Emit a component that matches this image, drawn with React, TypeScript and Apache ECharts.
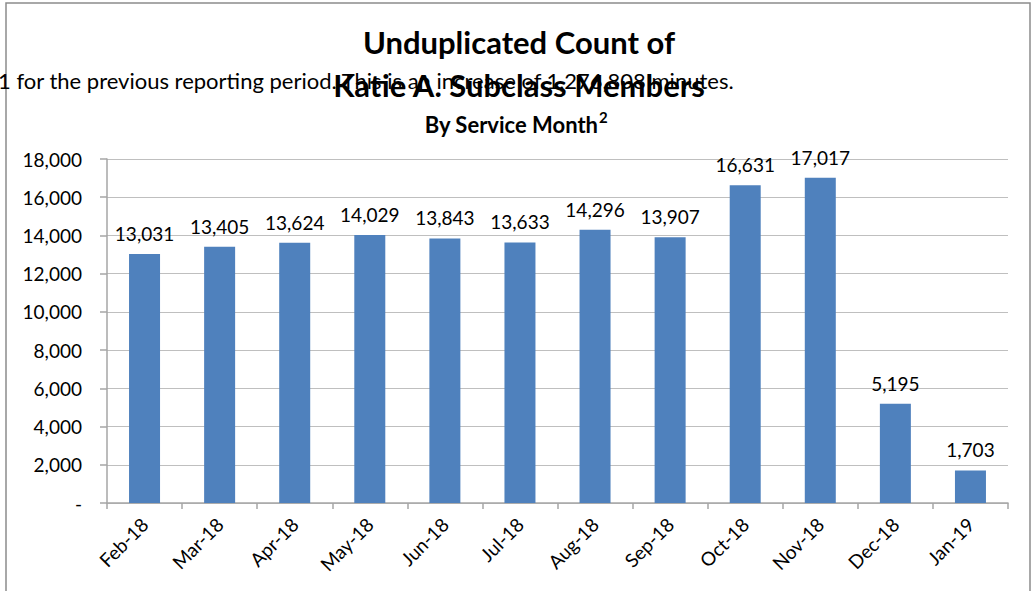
import React, { useEffect, useRef } from "react";
import * as echarts from "echarts";

const categories = ["Feb-18", "Mar-18", "Apr-18", "May-18", "Jun-18", "Jul-18", "Aug-18", "Sep-18", "Oct-18", "Nov-18", "Dec-18", "Jan-19"];
const members = [13031, 13405, 13624, 14029, 13843, 13633, 14296, 13907, 16631, 17017, 5195, 1703];
const titleLines = ["Unduplicated Count of", "Katie A. Subclass Members", "By Service Month"];
const titleSup = "2";
const bodyText = "1 for the previous reporting period. This is an increase of 1,276,808 minutes.";

const FONT = "Lato, 'Open Sans', sans-serif";
const fmt = (v: number) => (v === 0 ? "-" : v.toLocaleString("en-US"));

export default function App() {
  const ref = useRef<HTMLDivElement>(null);
  useEffect(() => {
    const chart = echarts.init(ref.current!, undefined, { renderer: "svg" });
    chart.setOption({
      animation: false,
      backgroundColor: "#ffffff",
      textStyle: { fontFamily: FONT },
      graphic: [
        {
          type: "rect",
          z: 0,
          shape: { x: 6, y: 3, width: 1024, height: 600 },
          style: { fill: "none", stroke: "#8c8c8c", lineWidth: 1.5 },
        },
        {
          type: "text",
          z: 10,
          x: -2,
          y: 80,
          style: { text: bodyText, font: `22px ${FONT}`, fill: "#000", textAlign: "left", textVerticalAlign: "middle" },
        },
        {
          type: "text",
          z: 20,
          x: 519,
          y: 42,
          style: { text: titleLines[0], font: `bold 31px ${FONT}`, fill: "#000", textAlign: "center", textVerticalAlign: "middle" },
        },
        {
          type: "text",
          z: 20,
          x: 519,
          y: 85,
          style: { text: titleLines[1], font: `bold 31px ${FONT}`, fill: "#000", textAlign: "center", textVerticalAlign: "middle" },
        },
        {
          type: "text",
          z: 20,
          x: 598,
          y: 124,
          style: { text: titleLines[2], font: `bold 22px ${FONT}`, fill: "#000", textAlign: "right", textVerticalAlign: "middle" },
        },
        {
          type: "text",
          z: 20,
          x: 599,
          y: 117,
          style: { text: titleSup, font: `bold 15px ${FONT}`, fill: "#000", textAlign: "left", textVerticalAlign: "middle" },
        },
      ],
      grid: { left: 107, top: 159, right: 26, bottom: 88, containLabel: false },
      xAxis: {
        type: "category",
        data: categories,
        axisLine: { lineStyle: { color: "#a6a6a6", width: 1.5 } },
        axisTick: { show: true, length: 6, alignWithLabel: false, lineStyle: { color: "#a6a6a6", width: 1.5 } },
        axisLabel: { rotate: 45, margin: 18, color: "#000", fontSize: 19, fontFamily: FONT, interval: 0 },
      },
      yAxis: {
        type: "value",
        min: 0,
        max: 18000,
        interval: 2000,
        axisLine: { show: true, lineStyle: { color: "#a6a6a6", width: 1.5 } },
        axisTick: { show: true, length: 7, lineStyle: { color: "#a6a6a6", width: 1.5 } },
        splitLine: { lineStyle: { color: "#bfbfbf", width: 1 } },
        axisLabel: { color: "#000", fontSize: 19, fontFamily: FONT, margin: 25, formatter: fmt },
      },
      series: [
        {
          type: "bar",
          data: members,
          barWidth: 31,
          itemStyle: { color: "#4f81bd" },
          label: {
            show: true,
            position: "top",
            distance: 11,
            color: "#000",
            fontSize: 19,
            fontFamily: FONT,
            formatter: (p: any) => fmt(p.value),
          },
        },
      ],
    });
    return () => chart.dispose();
  }, []);
  return <div ref={ref} style={{ position: "fixed", left: 0, top: 0, width: 1034, height: 591 }} />;
}
